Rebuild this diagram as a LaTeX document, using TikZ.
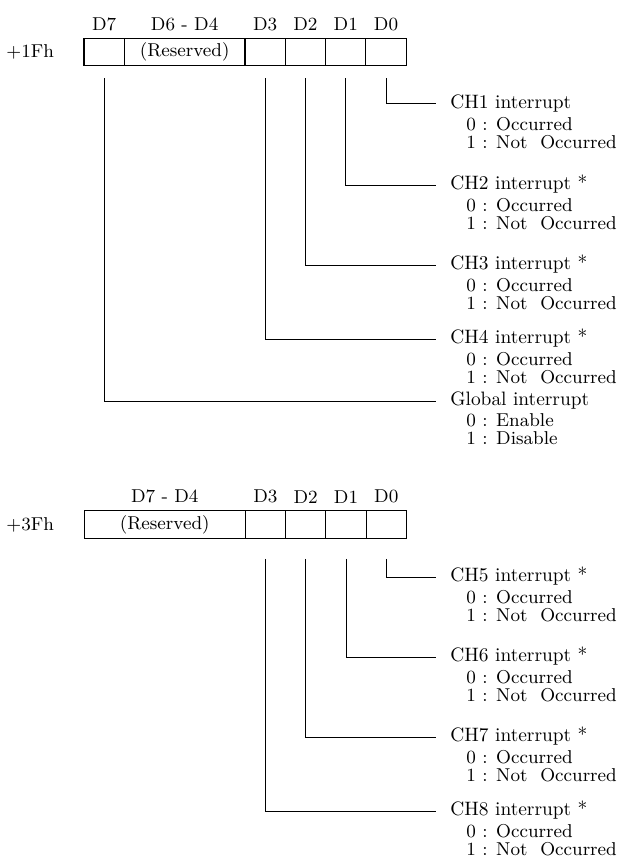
\documentclass[tikz,border=0pt]{standalone}
\usetikzlibrary{positioning}

\begin{document}
\begin{tikzpicture}[
  x=0.5pt, y=-0.5pt,
  font=\fontsize{9.3}{9}\selectfont,
  cell/.style={draw,line width=0.55pt,minimum height=13.7pt,inner sep=0pt,outer sep=0pt},
  bit/.style={cell,minimum width=20.15pt},
  lbl/.style={inner sep=0pt},
  ttl/.style={anchor=west,inner sep=0pt,text height=6.3pt,text depth=1.9pt,font=\fontsize{9.7}{9}\selectfont},
  opts/.style={anchor=north west,align=left,inner sep=0pt,xshift=8pt,yshift=-2pt},
  fil/.style={line width=0.5pt},
]
  \useasboundingbox (0,0) rectangle (626,856);

  % Registre +1Fh
  \node[lbl,anchor=west] (r1) at (6,52) {+1Fh};
  \node[bit] (a7) at (104.15,52) {};
  \node[cell,minimum width=60.35pt,right=0pt of a7] (a64) {(Reserved)};
  \node[bit,right=0pt of a64] (a3) {};
  \node[bit,right=0pt of a3] (a2) {};
  \node[bit,right=0pt of a2] (a1) {};
  \node[bit,right=0pt of a1] (a0) {};

  \node[lbl,above=3.5pt of a7]  (ta7)  {D7};
  \node[lbl,above=3.5pt of a64] (ta64) {D6 - D4};
  \node[lbl,above=3.5pt of a3]  (ta3)  {D3};
  \node[lbl,above=3.5pt of a2]  (ta2)  {D2};
  \node[lbl,above=3.5pt of a1]  (ta1)  {D1};
  \node[lbl,above=3.5pt of a0]  (ta0)  {D0};

  % Descriptions +1Fh
  \node[ttl] (ch1) at (450,104) {CH1 interrupt};
  \node[opts] (ch1o) at (ch1.south west) {0 : Occurred\\1 : Not~~Occurred};
  \node[ttl] (ch2) at (450,185) {CH2 interrupt *};
  \node[opts] (ch2o) at (ch2.south west) {0 : Occurred\\1 : Not~~Occurred};
  \node[ttl] (ch3) at (450,265) {CH3 interrupt *};
  \node[opts] (ch3o) at (ch3.south west) {0 : Occurred\\1 : Not~~Occurred};
  \node[ttl] (ch4) at (450,339) {CH4 interrupt *};
  \node[opts] (ch4o) at (ch4.south west) {0 : Occurred\\1 : Not~~Occurred};
  \node[ttl] (glb) at (450,401) {Global interrupt};
  \node[opts] (glbo) at (glb.south west) {0 : Enable\\1 : Disable};

  \draw[fil] ([yshift=-6.3pt]a0.south) |- ([xshift=-7pt]ch1.west);
  \draw[fil] ([yshift=-6.3pt]a1.south) |- ([xshift=-7pt]ch2.west);
  \draw[fil] ([yshift=-6.3pt]a2.south) |- ([xshift=-7pt]ch3.west);
  \draw[fil] ([yshift=-6.3pt]a3.south) |- ([xshift=-7pt]ch4.west);
  \draw[fil] ([yshift=-6.3pt]a7.south) |- ([xshift=-7pt]glb.west);

  % Registre +3Fh
  \node[lbl,anchor=west] (r3) at (6,524.5) {+3Fh};
  \node[cell,minimum width=80.5pt] (b74) at (164.75,524.5) {(Reserved)};
  \node[bit,right=0pt of b74] (b3) {};
  \node[bit,right=0pt of b3] (b2) {};
  \node[bit,right=0pt of b2] (b1) {};
  \node[bit,right=0pt of b1] (b0) {};

  \node[lbl,above=3.5pt of b74] (tb74) {D7 - D4};
  \node[lbl,above=3.5pt of b3]  (tb3)  {D3};
  \node[lbl,above=3.5pt of b2]  (tb2)  {D2};
  \node[lbl,above=3.5pt of b1]  (tb1)  {D1};
  \node[lbl,above=3.5pt of b0]  (tb0)  {D0};

  % Descriptions +3Fh
  \node[ttl] (ch5) at (450,577) {CH5 interrupt *};
  \node[opts] (ch5o) at (ch5.south west) {0 : Occurred\\1 : Not~~Occurred};
  \node[ttl] (ch6) at (450,657) {CH6 interrupt *};
  \node[opts] (ch6o) at (ch6.south west) {0 : Occurred\\1 : Not~~Occurred};
  \node[ttl] (ch7) at (450,737) {CH7 interrupt *};
  \node[opts] (ch7o) at (ch7.south west) {0 : Occurred\\1 : Not~~Occurred};
  \node[ttl] (ch8) at (450,811) {CH8 interrupt *};
  \node[opts] (ch8o) at (ch8.south west) {0 : Occurred\\1 : Not~~Occurred};

  \draw[fil] ([yshift=-10.3pt]b0.south) |- ([xshift=-7pt]ch5.west);
  \draw[fil] ([yshift=-10.3pt]b1.south) |- ([xshift=-7pt]ch6.west);
  \draw[fil] ([yshift=-10.3pt]b2.south) |- ([xshift=-7pt]ch7.west);
  \draw[fil] ([yshift=-10.3pt]b3.south) |- ([xshift=-7pt]ch8.west);
\end{tikzpicture}
\end{document}
